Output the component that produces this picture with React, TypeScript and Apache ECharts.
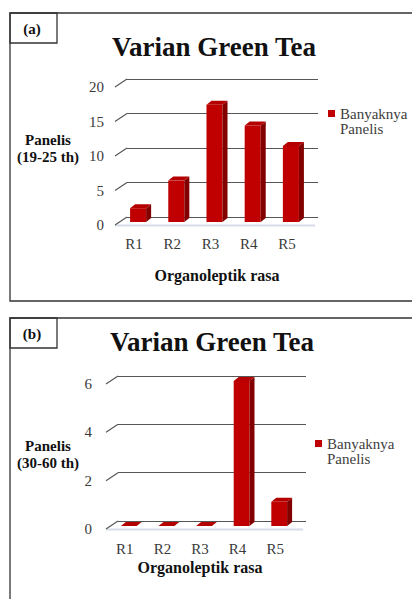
import React, { useEffect, useRef } from 'react';
import * as echarts from 'echarts';

const categories = ['R1', 'R2', 'R3', 'R4', 'R5'];
const valuesA = [2, 6, 17, 14, 11];
const valuesB = [0, 0, 0, 6, 1];
const ticksA = [0, 5, 10, 15, 20];
const ticksB = [0, 2, 4, 6];
const chartTitle = 'Varian Green Tea';
const seriesName = 'Banyaknya Panelis';
const yTitleA = 'Panelis\n(19-25 th)';
const yTitleB = 'Panelis\n(30-60 th)';
const xTitle = 'Organoleptik rasa';
const panelA = '(a)';
const panelB = '(b)';

const SERIF = 'Liberation Serif';
const DEPTH_X = 12;
const DEPTH_Y = 8;
const GRID_COLOR = '#555555';

function barRender(params: any, api: any) {
  const idx = api.value(0);
  const v = api.value(1);
  const top = api.coord([idx, v]);
  const base = api.coord([idx, 0]);
  const band = api.size([1, 0])[0];
  const w = band * 0.42;
  const x = top[0] + 4 - w / 2;
  const yt = top[1] - 3;
  const yb = base[1] - 3;
  const dx = 5;
  const dy = 4;
  return {
    type: 'group',
    children: [
      { type: 'rect', shape: { x, y: yt, width: w, height: Math.max(0, yb - yt) }, style: { fill: '#c00000' } },
      {
        type: 'polygon',
        shape: { points: [[x + w, yt], [x + w + dx, yt - dy], [x + w + dx, yb - dy], [x + w, yb]] },
        style: { fill: '#820000' },
      },
      {
        type: 'polygon',
        shape: { points: [[x, yt], [x + dx, yt - dy], [x + w + dx, yt - dy], [x + w, yt]] },
        style: { fill: '#b40000' },
      },
    ],
  };
}

function tickRender(params: any, api: any) {
  const y = api.coord([0, api.value(1)])[1];
  const x0 = params.coordSys.x;
  return {
    type: 'line',
    shape: { x1: x0, y1: y, x2: x0 + DEPTH_X, y2: y - DEPTH_Y },
    style: { stroke: GRID_COLOR, lineWidth: 1.2 },
  };
}

function floorRender(params: any, api: any) {
  const y = api.coord([0, 0])[1];
  const cs = params.coordSys;
  return {
    type: 'line',
    shape: { x1: cs.x, y1: y + 0.5, x2: cs.x + cs.width + 9, y2: y + 0.5 },
    style: { stroke: '#d5dee9', lineWidth: 2 },
  };
}

function txt(text: string, x: number, y: number, size: number, bold: boolean, lineHeight?: number) {
  return {
    type: 'text',
    x,
    y,
    style: {
      text,
      fontFamily: SERIF,
      fontSize: size,
      fontWeight: bold ? 'bold' : 'normal',
      lineHeight: lineHeight || size * 1.2,
      fill: '#111111',
      textAlign: 'center',
      textVerticalAlign: 'middle',
      align: 'center',
      verticalAlign: 'middle',
    },
  };
}

export default function App() {
  const ref = useRef<HTMLDivElement>(null);
  useEffect(() => {
    if (!ref.current) return;
    const chart = echarts.init(ref.current, undefined, { renderer: 'svg' });
    const catLabel = { fontFamily: SERIF, fontSize: 15, color: '#3a3a3a' };
    const mkX = (grid: number, show: boolean, margin: number) => ({
      type: 'category',
      gridIndex: grid,
      data: categories,
      axisLine: { show: false },
      axisTick: { show: false },
      axisLabel: { show, margin, ...catLabel },
      splitLine: { show: false },
    });
    const mkY = (grid: number, max: number, interval: number, front: boolean, margin: number) => ({
      type: 'value',
      gridIndex: grid,
      min: 0,
      max,
      interval,
      axisLine: { show: false },
      axisTick: { show: false },
      axisLabel: { show: front, margin, ...catLabel },
      splitLine: { show: !front, lineStyle: { color: GRID_COLOR, width: 1.2 } },
    });
    const legendBase = {
      data: [seriesName],
      orient: 'vertical',
      icon: 'rect',
      itemWidth: 7,
      itemHeight: 7,
      padding: 0,
      selectedMode: false,
      formatter: (n: string) => '\n' + n.replace(' ', '\n'),
      textStyle: { fontFamily: SERIF, fontSize: 15, color: '#404040', lineHeight: 15 },
    };
    chart.setOption({
      animation: false,
      backgroundColor: '#ffffff',
      grid: [
        { left: 115, top: 87, width: 191, height: 138 },
        { left: 127, top: 79, width: 191, height: 138 },
        { left: 106, top: 384, width: 188, height: 145 },
        { left: 118, top: 376, width: 188, height: 145 },
      ],
      xAxis: [mkX(0, true, 11), mkX(1, false, 0), mkX(2, true, 12), mkX(3, false, 0)],
      yAxis: [mkY(0, 20, 5, true, 11), mkY(1, 20, 5, false, 0), mkY(2, 6, 2, true, 14), mkY(3, 6, 2, false, 0)],
      legend: [
        { ...legendBase, left: 328, top: 91 },
        { ...legendBase, left: 315, top: 421 },
      ],
      series: [
        { type: 'custom', xAxisIndex: 0, yAxisIndex: 0, renderItem: floorRender, data: [[0, 0]], z: 1, silent: true },
        { type: 'custom', xAxisIndex: 0, yAxisIndex: 0, renderItem: tickRender, data: ticksA.map((t) => [0, t]), z: 1, silent: true },
        {
          type: 'custom',
          name: seriesName,
          xAxisIndex: 0,
          yAxisIndex: 0,
          renderItem: barRender,
          itemStyle: { color: '#c00000' },
          data: valuesA.map((v, i) => [i, v]),
          z: 3,
        },
        { type: 'custom', xAxisIndex: 2, yAxisIndex: 2, renderItem: floorRender, data: [[0, 0]], z: 1, silent: true },
        { type: 'custom', xAxisIndex: 2, yAxisIndex: 2, renderItem: tickRender, data: ticksB.map((t) => [0, t]), z: 1, silent: true },
        {
          type: 'custom',
          name: seriesName,
          xAxisIndex: 2,
          yAxisIndex: 2,
          renderItem: barRender,
          itemStyle: { color: '#c00000' },
          data: valuesB.map((v, i) => [i, v]),
          z: 3,
        },
      ],
      graphic: [
        { type: 'rect', shape: { x: 10, y: 13, width: 420, height: 288 }, style: { fill: 'none', stroke: '#333333', lineWidth: 1.3 } },
        { type: 'rect', shape: { x: 10, y: 13, width: 47, height: 30 }, style: { fill: 'none', stroke: '#333333', lineWidth: 1.3 } },
        { type: 'rect', shape: { x: 10, y: 318, width: 420, height: 300 }, style: { fill: 'none', stroke: '#333333', lineWidth: 1.3 } },
        { type: 'rect', shape: { x: 10, y: 318, width: 47, height: 30 }, style: { fill: 'none', stroke: '#333333', lineWidth: 1.3 } },
        txt(panelA, 32, 29, 15, true),
        txt(panelB, 32, 334, 15, true),
        txt(chartTitle, 214, 47, 27, true),
        txt(chartTitle, 212, 342, 27, true),
        txt(yTitleA, 48, 148, 15, true, 17),
        txt(yTitleB, 48, 454, 15, true, 17),
        txt(xTitle, 217, 275, 16, true),
        txt(xTitle, 200, 567, 16, true),
      ],
    });
    return () => chart.dispose();
  }, []);
  return <div ref={ref} style={{ position: 'absolute', left: 0, top: 0, width: 412, height: 599 }} />;
}
